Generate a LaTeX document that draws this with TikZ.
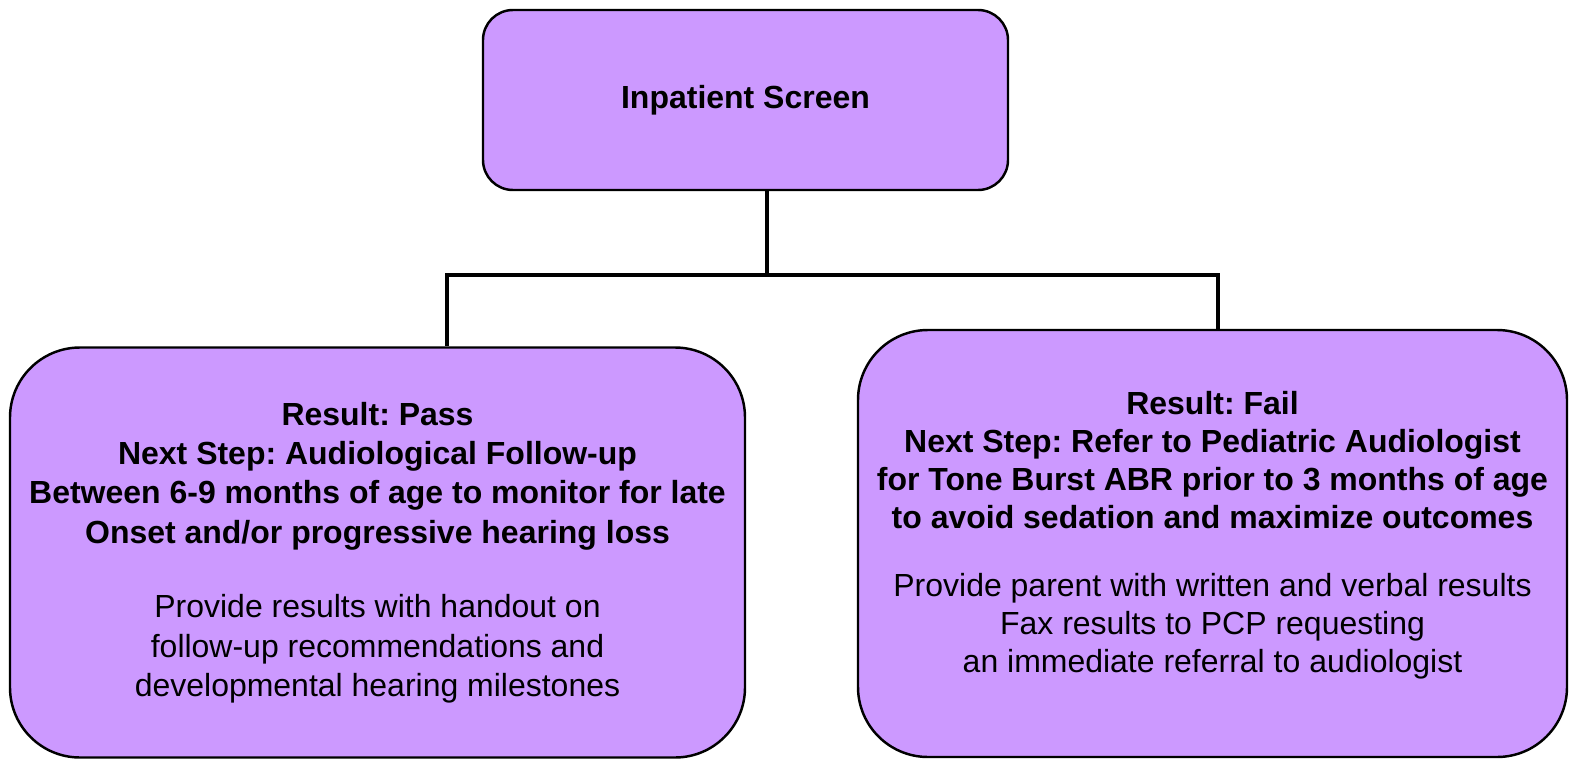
\documentclass[tikz,border=0pt]{standalone}
\usepackage{fontspec}
\setmainfont{Liberation Sans}
\usepackage{xcolor}
\definecolor{lavender}{RGB}{204,153,255}
\frenchspacing

\begin{document}
\begin{tikzpicture}[
    box/.style={draw, fill=lavender, line width=1.4pt, align=center, font=\fontsize{18.2}{22.4}\selectfont},
    topbox/.style={box, rounded corners=0.6cm, minimum width=10.5cm, minimum height=3.6cm},
    resultbox/.style={box, rounded corners=1.4cm, minimum height=8.2cm},
    conn/.style={line width=2.3pt}
]
\useasboundingbox (0,0) rectangle (31.4,-15.18);

\node[topbox] (screen) at (14.91,-2.0) {\textbf{Inpatient Screen}};

\node[resultbox, minimum width=14.7cm] (pass) at (7.55,-11.05) {\textbf{Result: Pass}\\
    \textbf{Next Step: Audiological Follow-up}\\
    \textbf{Between 6-9 months of age to monitor for late}\\
    \textbf{Onset and/or progressive hearing loss}\\[0.7cm]
    Provide results with handout on\\
    follow-up recommendations and\\
    developmental hearing milestones};

\node[resultbox, minimum width=14.18cm, minimum height=8.54cm, font=\fontsize{18.2}{21.6}\selectfont] (fail) at (24.25,-10.87) {\textbf{Result: Fail}\\
    \textbf{Next Step: Refer to Pediatric Audiologist}\\
    \textbf{for Tone Burst ABR prior to 3 months of age}\\
    \textbf{to avoid sedation and maximize outcomes}\\[0.6cm]
    Provide parent with written and verbal results\\
    Fax results to PCP requesting\\
    an immediate referral to audiologist\\[-0.3cm]};

\coordinate (split) at (15.34,-5.5);
\draw[conn] (screen.south -| split) -- (split);
\draw[conn] (split) -| ([xshift=1.39cm]pass.north);
\draw[conn] (split) -| ([xshift=0.11cm]fail.north);
\end{tikzpicture}
\end{document}
